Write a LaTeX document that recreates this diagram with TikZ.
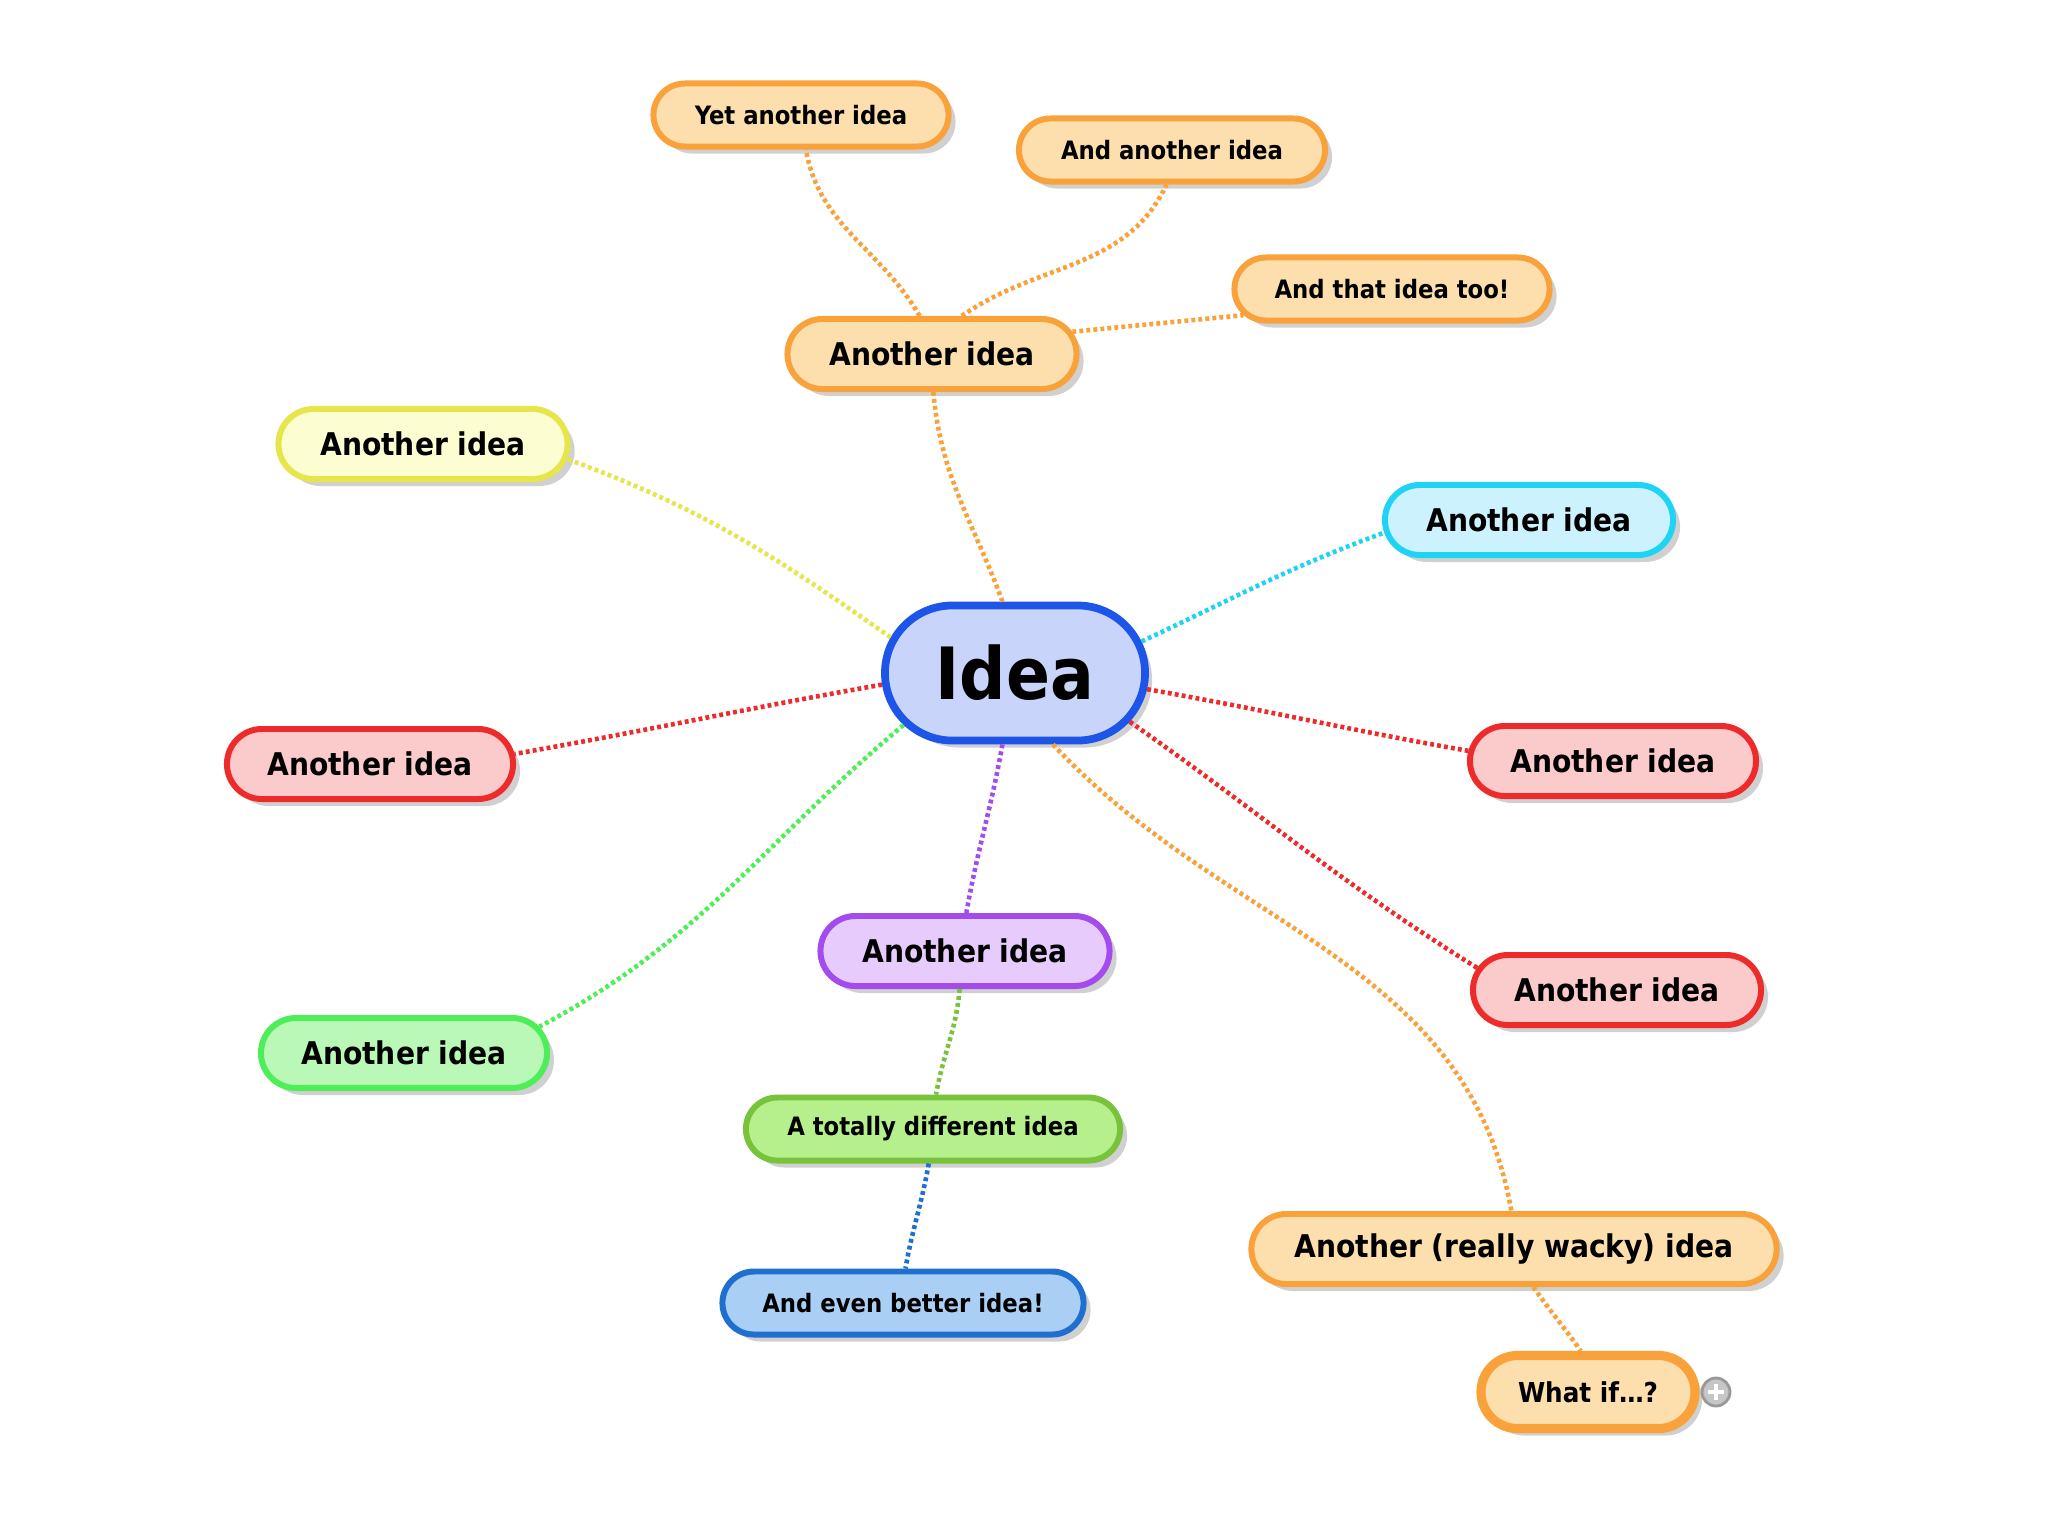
\documentclass[tikz,border=0pt]{standalone}
\usepackage{fontspec}
\setmainfont{DejaVu Sans Condensed}
\usetikzlibrary{shapes.misc,shadows}
\definecolor{orB}{HTML}{F9A23B}\definecolor{orF}{HTML}{FDDEAD}
\definecolor{yeB}{HTML}{E6E64C}\definecolor{yeF}{HTML}{FDFDD2}
\definecolor{cyB}{HTML}{1FD3F4}\definecolor{cyF}{HTML}{CBF2FD}
\definecolor{reB}{HTML}{EE2B2B}\definecolor{reF}{HTML}{FBCACA}
\definecolor{puB}{HTML}{A24CEE}\definecolor{puF}{HTML}{E6CBFC}
\definecolor{grB}{HTML}{4DEE58}\definecolor{grF}{HTML}{B9F8B6}
\definecolor{liB}{HTML}{78C23C}\definecolor{liF}{HTML}{B6F08C}
\definecolor{blB}{HTML}{1E6FCF}\definecolor{blF}{HTML}{AACFF4}
\definecolor{ceB}{HTML}{1D55E8}\definecolor{ceF}{HTML}{C9D4FA}
\tikzset{
  idbox/.style={rounded rectangle, draw, line width=1.7pt, inner sep=2pt,
    font=\bfseries\fontsize{8.9}{10}\selectfont, minimum height=0.70cm,
    drop shadow={shadow xshift=0.07cm,shadow yshift=-0.07cm,opacity=0.3,fill=black!60}},
  smallbox/.style={idbox, font=\bfseries\fontsize{7.2}{9}\selectfont, minimum height=0.63cm},
  link/.style={line width=1.3pt, dash pattern=on 1.1pt off 0.9pt},
  orbox/.style={draw=orB, fill=orF}, yebox/.style={draw=yeB, fill=yeF},
  cybox/.style={draw=cyB, fill=cyF}, rebox/.style={draw=reB, fill=reF},
  pubox/.style={draw=puB, fill=puF}, grbox/.style={draw=grB, fill=grF},
  libox/.style={draw=liB, fill=liF}, blbox/.style={draw=blB, fill=blF},
}
\begin{document}
\begin{tikzpicture}[x=0.01cm,y=0.01cm]
\path[use as bounding box, fill=white] (0,0) rectangle (2048,-1536);
% central
\node[idbox, draw=ceB, fill=ceF, line width=2.2pt, minimum width=2.74cm, minimum height=1.35cm,
  font=\bfseries\fontsize{20.5}{24}\selectfont] (idea) at (1015,-673) {Idea};
% orange group
\node[idbox, orbox, minimum width=3.03cm] (topA) at (932,-354) {Another idea};
\node[smallbox, orbox, minimum width=3.09cm] (yet) at (801,-115) {Yet another idea};
\node[smallbox, orbox, minimum width=3.20cm] (andA) at (1172,-150) {And another idea};
\node[smallbox, orbox, minimum width=3.29cm] (too) at (1392,-289) {And that idea too!};
% others
\node[idbox, yebox, minimum width=3.03cm] (yel) at (423,-444) {Another idea};
\node[idbox, cybox, minimum width=3.02cm] (cya) at (1529,-520) {Another idea};
\node[idbox, rebox, minimum width=3.00cm] (redL) at (370,-764) {Another idea};
\node[idbox, rebox, minimum width=3.00cm] (redR) at (1613,-761) {Another idea};
\node[idbox, rebox, minimum width=3.02cm] (redR2) at (1617,-990) {Another idea};
\node[idbox, pubox, minimum width=3.03cm] (pur) at (965,-951) {Another idea};
\node[idbox, grbox, minimum width=3.00cm] (grn) at (404,-1053) {Another idea};
\node[smallbox, libox, minimum width=3.88cm] (tot) at (933,-1129) {A totally different idea};
\node[smallbox, blbox, minimum width=3.75cm] (bet) at (903,-1303) {And even better idea!};
\node[idbox, orbox, minimum width=5.39cm] (wac) at (1514,-1249) {Another (really wacky) idea};
\node[idbox, orbox, line width=2.6pt, minimum width=2.28cm, minimum height=0.73cm,
  font=\bfseries\fontsize{7.8}{9}\selectfont] (what) at (1588,-1392) {What if…?};
\node[circle, draw=gray!80, fill=gray!45, line width=0.8pt, minimum size=0.28cm, inner sep=0pt] (plus) at (1716,-1392) {};
\draw[white, line width=1.3pt] (plus.center) ++(-8,0) -- ++(16,0) (plus.center) ++(0,-8) -- ++(0,16);
% connectors
\draw[link, orB] (idea.100) to[out=110,in=-85] (topA.-88);
\draw[link, orB] (topA.108) to[out=120,in=-80] (yet.-82);
\draw[link, orB] (topA.52) to[out=35,in=-115] (andA.-99);
\draw[link, orB] (topA.9) -- (too.190);
\draw[link, yeB] (idea.164) to[out=145,in=-20] (yel.-6);
\draw[link, cyB] (idea.14) to[out=25,in=200] (cya.185);
\draw[link, reB] (idea.185) to[out=190,in=10] (redL.4);
\draw[link, reB] (idea.-7) to[out=-10,in=170] (redR.176);
\draw[link, reB] (idea.-23) to[out=-35,in=148] (redR2.171);
\draw[link, grB] (idea.205) to[out=-140,in=28] (grn.11);
\draw[link, puB] (idea.-100) to[out=-100,in=80] (pur.88);
\draw[link, orB] (idea.-62) to[out=-47,in=100] (wac.94);
\draw[link, liB] (pur.-98) to[out=-95,in=80] (tot.85);
\draw[link, blB] (tot.-97) to[out=-100,in=80] (bet.86);
\draw[link, orB] (wac.-63) to[out=-55,in=125] (what.100);
\end{tikzpicture}
\end{document}
